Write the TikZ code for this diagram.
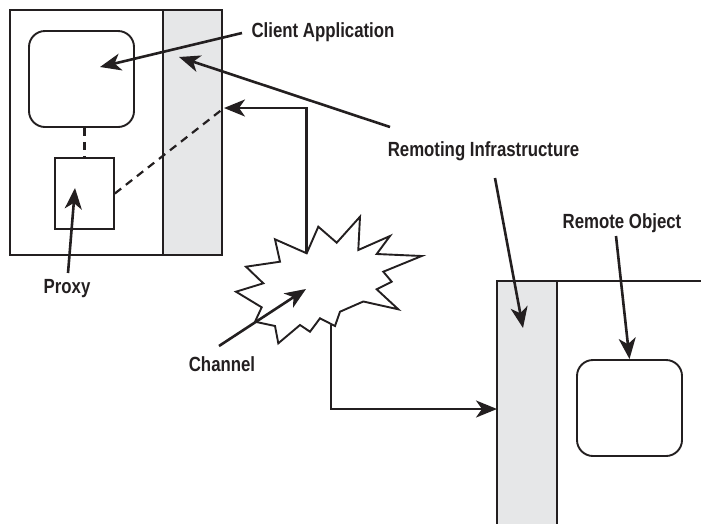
\documentclass[tikz,border=0pt]{standalone}
\usepackage{fontspec}
\setmainfont{Liberation Sans}[BoldFeatures={FakeStretch=0.82}]
\usetikzlibrary{arrows.meta}
\definecolor{strip}{RGB}{230,231,232}
\definecolor{ink}{RGB}{35,31,32}
\tikzset{
  lbl/.style={inner sep=0pt, font=\fontsize{20.5}{22}\selectfont\bfseries, text=ink},
  arr/.style={draw=ink, line width=2.6pt, -{Stealth[length=21pt,width=17pt,inset=6pt]}},
  frame/.style={draw=ink, line width=1.7pt},
  dsh/.style={draw=ink, line width=2.2pt, dash pattern=on 8pt off 6pt},
  obj/.style={draw=ink, line width=1.9pt, rounded corners=16pt, fill=white}
}
\begin{document}
\begin{tikzpicture}[x=1pt,y=-1pt]
\useasboundingbox (0,0) rectangle (701,523);
% client side
\fill[strip] (163,10) rectangle (222,255);
\draw[frame] (10,10) rectangle (222,255);
\draw[frame] (163,10) -- (163,255);
\node[obj, minimum width=105pt, minimum height=96pt] (capp) at (81.5,79) {};
\node[frame, fill=white, minimum width=59pt, minimum height=71pt, inner sep=0pt] (proxy) at (84.5,193.5) {};
\coordinate (cinf) at (224,108);
\draw[dsh] (capp.south -| proxy.north) -- (proxy.north);
\draw[dsh] (proxy.east) -- (cinf);
% server side
\fill[strip] (497,281) rectangle (557,530);
\draw[frame] (497,530) -- (497,281) -- (701,281);
\draw[frame] (557,281) -- (557,530);
\node[obj, minimum width=105pt, minimum height=96pt] (robj) at (629.5,408) {};
% channel starburst
\draw[ink, line width=1.9pt, fill=white, line join=miter]
  (306.7,253.3) -- (318.3,226.7) -- (336.7,242.7) -- (360,216.7) -- (358.3,250)
  -- (390,236) -- (376.7,254) -- (421.7,256) -- (383.3,271.7) -- (391.7,281.7)
  -- (376.7,289.3) -- (398.3,309.3) -- (363.3,301.5) -- (340,311.7) -- (335,326)
  -- (320,318.3) -- (310,331.7) -- (300,325) -- (278.3,343.3) -- (275,326)
  -- (255,321.7) -- (261.7,307.3) -- (236,291.7) -- (263.3,283.3) -- (246,266.7)
  -- (280,261.7) -- (275,239.3) -- cycle;
\coordinate (chtop) at (306.7,253.3);
\coordinate (chbot) at (331,325);
\coordinate (chctr) at (306,289);
\coordinate (sinf) at (497,409);
% labels
\node[lbl] (lclient) at (323,32) {Client Application};
\node[lbl] (lremoting) at (483.5,151) {Remoting Infrastructure};
\node[lbl] (lremote) at (622,223) {Remote Object};
\node[lbl] (lproxy) at (67,289) {Proxy};
\node[lbl] (lchannel) at (222,364) {Channel};
% connectors
\draw[arr] (chtop) |- (cinf);
\draw[arr] (chbot) |- (sinf);
\draw[arr] (242,33) -- (100,67);
\draw[arr] (390,127) -- (179,57);
\draw[arr] (495,178) -- (523,328);
\draw[arr] (616,236) -- (robj.north);
\draw[arr] (68,273) -- (75,188);
\draw[arr] (219,346) -- (chctr);
\end{tikzpicture}
\end{document}
